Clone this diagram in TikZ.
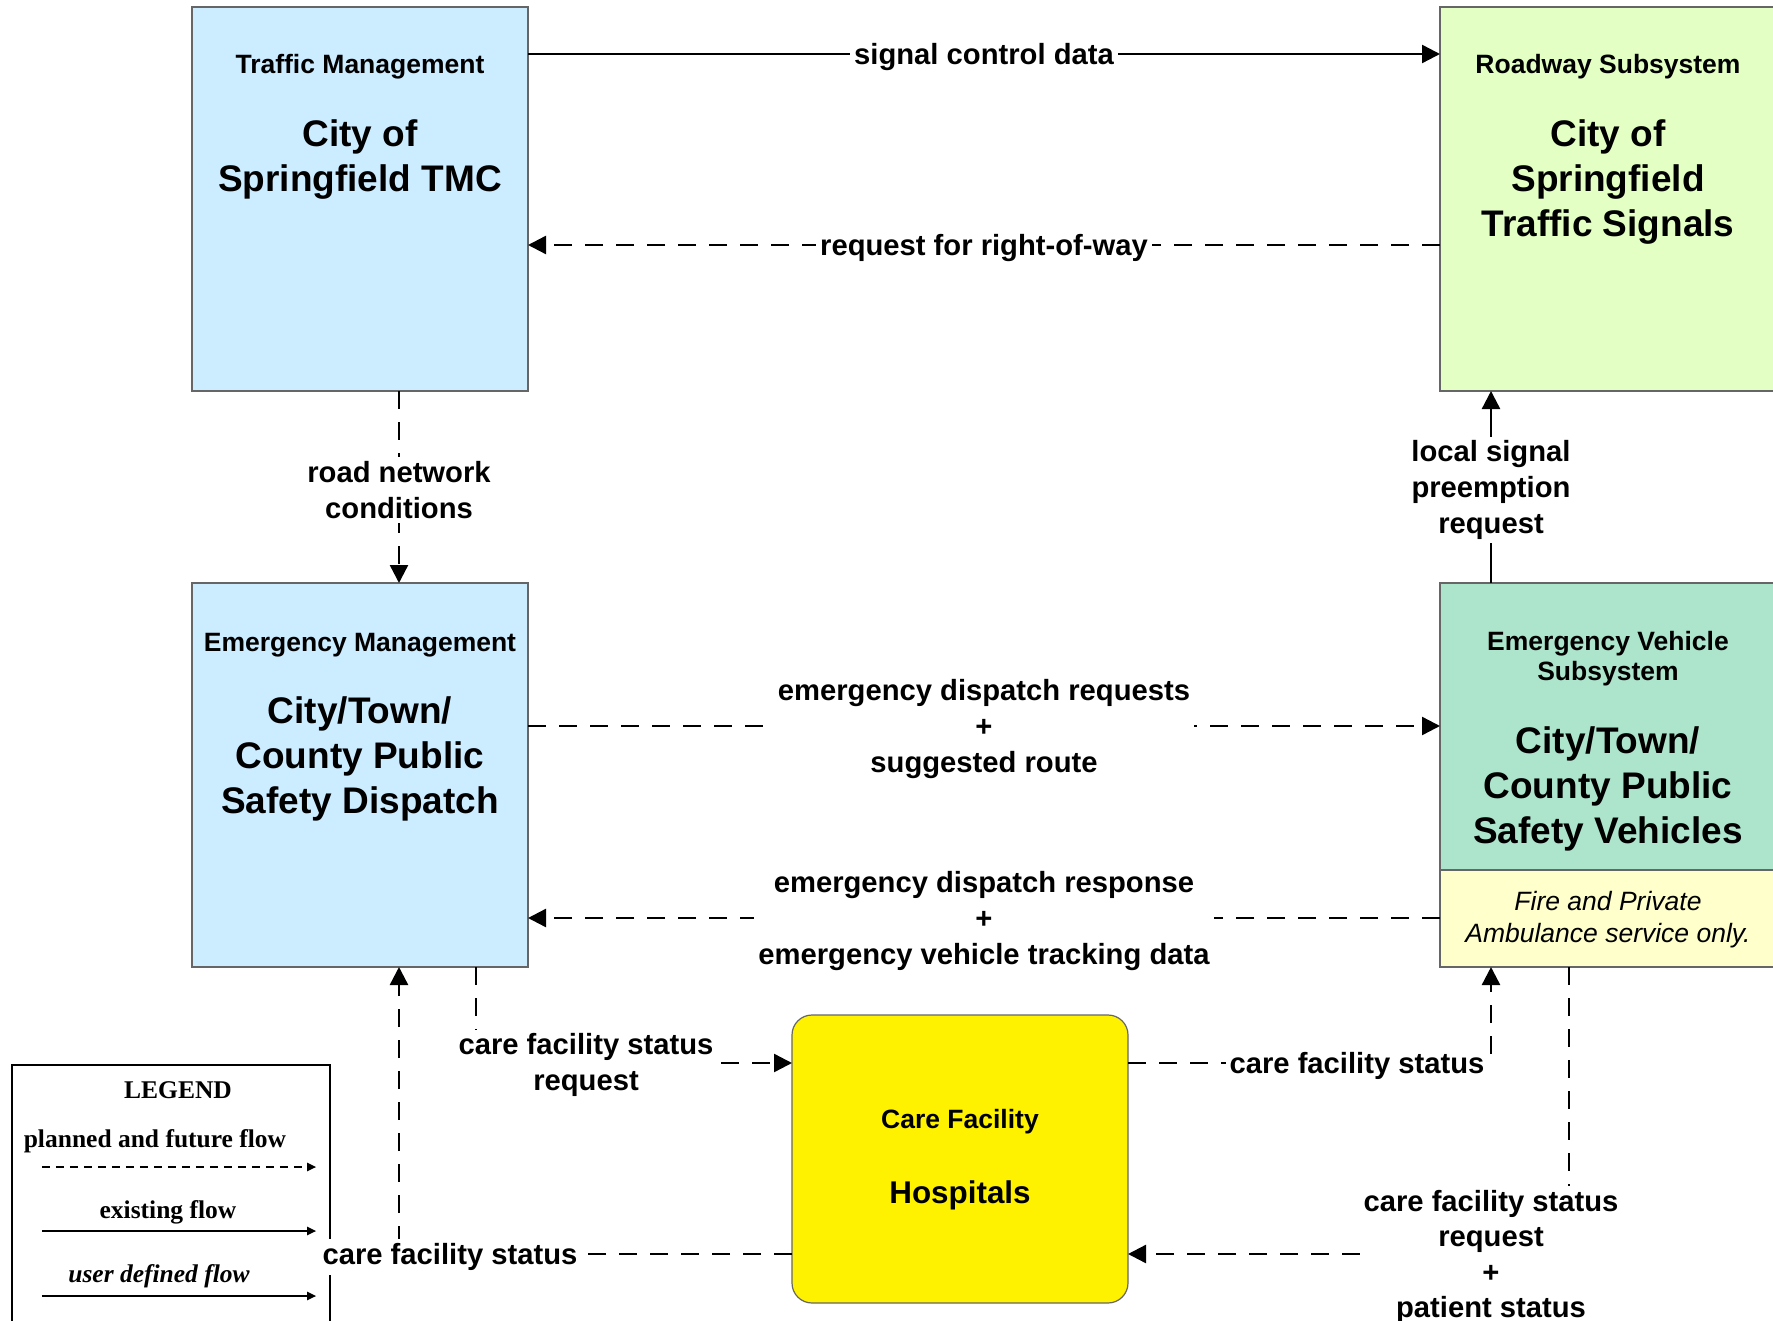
\documentclass[tikz,border=0pt]{standalone}
\usepackage{fontspec}
\setmainfont{Liberation Sans}
\newfontfamily\legendfont{Liberation Serif}
\usetikzlibrary{arrows.meta}
\definecolor{tmcblue}{RGB}{204,236,255}
\definecolor{roadgreen}{RGB}{228,255,196}
\definecolor{evgreen}{RGB}{172,228,204}
\definecolor{notecream}{RGB}{255,255,204}
\begin{document}
\begin{tikzpicture}[x=0.5pt,y=-0.5pt,>={Triangle[length=9pt,width=9pt]},
  box/.style={draw=black!60,line width=0.6pt,inner sep=0pt,outer sep=0pt,minimum width=168pt,minimum height=192pt},
  sysname/.style={anchor=base,align=center,font=\fontsize{13.25}{15}\selectfont\bfseries},
  bigname/.style={anchor=base,align=center,font=\fontsize{18.5}{22.5}\selectfont\bfseries},
  flowlabel/.style={fill=white,align=center,inner sep=2pt,yshift=-1.5pt,font=\fontsize{14.6}{17.8}\selectfont\bfseries},
  existing/.style={line width=1.2pt},
  planned/.style={line width=1.2pt,dash pattern=on 9pt off 6.5pt},
  legendtext/.style={anchor=base,font=\fontsize{12.75}{15}\legendfont\bfseries}]

\useasboundingbox (0,0) rectangle (1773,1321);
\clip (0,0) rectangle (1773,1321);

\node[box,fill=tmcblue] (tmc) at (360,199) {};
\node[box,fill=roadgreen] (road) at (1608,199) {};
\node[box,fill=tmcblue] (em) at (360,775) {};
\node[box,fill=evgreen] (ev) at (1608,775) {};
\node[box,fill=notecream,minimum height=48.5pt] (evnote) at (1608,918.5) {};
\node[box,fill=yellow,minimum height=144pt,rounded corners=10pt] (care) at (960,1159) {};

\node[sysname] (tmctitle) at (360,74) {Traffic Management};
\node[bigname] (tmcname) at (360,192) {City of\\Springfield TMC};
\node[sysname] (roadtitle) at (1608,74) {Roadway Subsystem};
\node[bigname] (roadname) at (1608,237) {City of\\Springfield\\Traffic Signals};
\node[sysname] (emtitle) at (360,651) {Emergency Management};
\node[bigname] (emname) at (360,813) {City/Town/\\County Public\\Safety Dispatch};
\node[sysname] (evtitle) at (1608,680) {Emergency Vehicle\\Subsystem};
\node[bigname] (evname) at (1608,843) {City/Town/\\County Public\\Safety Vehicles};
\node[anchor=base,align=center,font=\fontsize{13.25}{16}\selectfont\itshape] (evnotetext) at (1608,942) {Fire and Private\\Ambulance service only.};
\node[sysname] (caretitle) at (960,1128) {Care Facility};
\node[anchor=base,font=\fontsize{15.7}{18}\selectfont\bfseries] (carename) at (960,1203) {Hospitals};

\node[draw,line width=1.2pt,inner sep=0pt,minimum width=159pt,minimum height=140pt] (legend) at (171,1205) {};
\node[legendtext] (legendtitle) at (178,1098) {LEGEND};
\node[legendtext] (plannedtext) at (155,1147) {planned and future flow};
\node[legendtext] (existingtext) at (168,1218) {existing flow};
\node[legendtext,font=\fontsize{12.75}{15}\legendfont\bfseries\itshape] (usertext) at (159,1282) {user defined flow};
\draw[line width=1pt,dash pattern=on 4pt off 3pt,-{Triangle[length=4.5pt,width=4pt]}] ([xshift=15.5pt]legend.west |- 0,1167) -- ([xshift=-7.5pt]legend.east |- 0,1167);
\draw[line width=1pt,-{Triangle[length=4.5pt,width=4pt]}] ([xshift=15.5pt]legend.west |- 0,1231) -- ([xshift=-7.5pt]legend.east |- 0,1231);
\draw[line width=1pt,-{Triangle[length=4.5pt,width=4pt]}] ([xshift=15.5pt]legend.west |- 0,1296) -- ([xshift=-7.5pt]legend.east |- 0,1296);

\draw[existing,->] (tmc.east |- 0,54) -- node[flowlabel] {signal control data} (road.west |- 0,54);
\draw[planned,->] (road.west |- 0,245) -- node[flowlabel] {request for right-of-way} (tmc.east |- 0,245);
\draw[planned,->] (tmc.south -| 399,0) -- node[flowlabel] {road network\\conditions} (em.north -| 399,0);
\draw[existing,->] (ev.north -| 1491,0) -- node[flowlabel] {local signal\\preemption\\request} (road.south -| 1491,0);
\draw[planned,->] (em.east |- 0,726) -- node[flowlabel] {emergency dispatch requests\\+\\suggested route} (ev.west |- 0,726);
\draw[planned,->] (evnote.west |- 0,918) -- node[flowlabel] {emergency dispatch response\\+\\emergency vehicle tracking data} (em.east |- 0,918);

\draw[planned,->] (em.south -| 476,0) |- (care.west |- 0,1063);
\draw[planned,->] (care.east |- 0,1063) -| (ev.south -| 1491,0);
\draw[planned,->] (ev.south -| 1569,0) |- (care.east |- 0,1254);
\draw[planned,->] (care.west |- 0,1254) -| (em.south -| 399,0);

\node[flowlabel] (statusreq) at (586,1062) {care facility status\\request};
\node[flowlabel] (statustoev) at (1357,1063) {care facility status};
\node[flowlabel] (patientreq) at (1491,1254) {care facility status\\request\\+\\patient status};
\node[flowlabel] (statustoem) at (450,1254) {care facility status};

\end{tikzpicture}
\end{document}
